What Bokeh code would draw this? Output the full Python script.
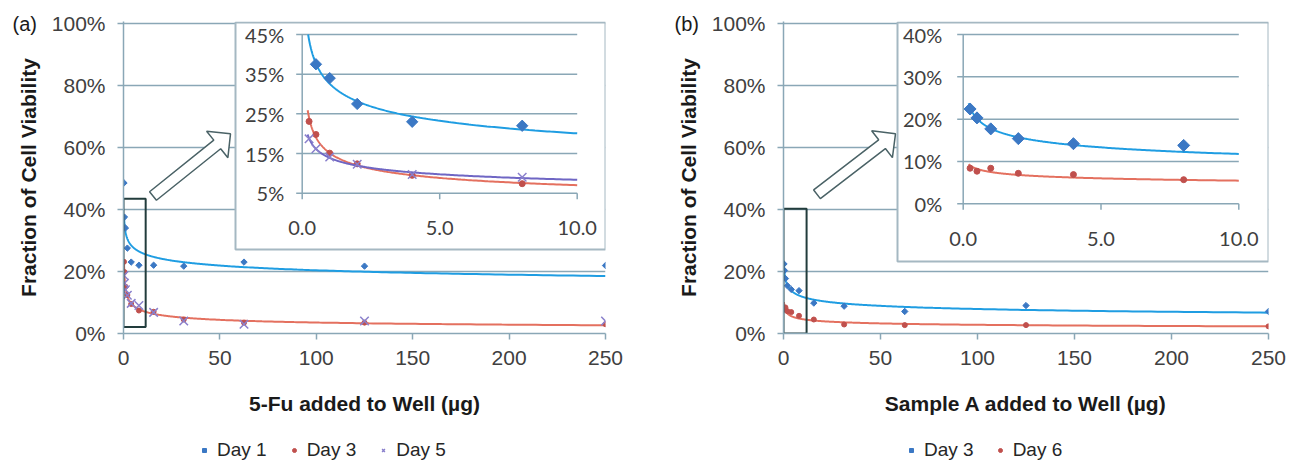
import numpy as np
from bokeh.plotting import figure
from bokeh.layouts import row, column
from bokeh.models import Range1d, Legend, LegendItem, Label, NumeralTickFormatter, FixedTicker
from bokeh.core.properties import value
from bokeh.embed import file_html
from bokeh.resources import INLINE

# ---------------- data ----------------
dose_ug = [0.25, 0.5, 1, 2, 4, 8, 15.625, 31.25, 62.5, 125, 250]

fu_day1 = [0.485, 0.375, 0.340, 0.275, 0.230, 0.220, 0.220, 0.217, 0.230, 0.217, 0.219]
fu_day3 = [0.231, 0.198, 0.151, 0.124, 0.095, 0.074, 0.070, 0.045, 0.035, 0.035, 0.030]
fu_day5 = [0.187, 0.162, 0.141, 0.123, 0.097, 0.090, 0.068, 0.040, 0.030, 0.040, 0.040]

sa_day3 = [0.224, 0.203, 0.177, 0.154, 0.142, 0.138, 0.098, 0.088, 0.071, 0.090, 0.071]
sa_day6 = [0.084, 0.077, 0.084, 0.072, 0.069, 0.057, 0.045, 0.029, 0.027, 0.027, 0.023]

main_x_ticks = [0, 50, 100, 150, 200, 250]
main_y_ticks = [0.0, 0.2, 0.4, 0.6, 0.8, 1.0]
inset_x_ticks = [0, 5, 10]
inset_x_labels = ["0.0", "5.0", "10.0"]
fu_inset_y_ticks = [0.05, 0.15, 0.25, 0.35, 0.45]
fu_inset_y_labels = ["5%", "15%", "25%", "35%", "45%"]
sa_inset_y_ticks = [0.0, 0.1, 0.2, 0.3, 0.4]
sa_inset_y_labels = ["0%", "10%", "20%", "30%", "40%"]

fu_zoom_region = [0.0, 11.5, 0.021, 0.434]   # x0, x1, y0, y1 of the magnified area
sa_zoom_region = [0.0, 11.9, 0.0, 0.402]

# ---------------- styles ----------------
BLUE_MK = "#3b78c4"
BLUE_LN = "#1f9de2"
RED_MK = "#c0504d"
RED_LN = "#e4705f"
PURP_MK = "#8a80cc"
PURP_LN = "#6f66c4"
GRID = "#8aa7b6"
BOX = "#a5b8c2"
ZOOM = "#223c3c"
ARROW = "#4a6266"
TXT = "#404040"

# ---------------- layout (page pixels) ----------------
FIG_H = 440
LEG_H = 26
FRAME_TOP = 21.0
FRAME_H = 312
FRAME_BOT = FRAME_TOP + FRAME_H
Y_TOP = 1.005

LEFT = dict(fig_x=0, fig_w=650, fl=123, fr=605,
            box=(235, 605, 22, 249), ax=(301.7, 576.7, 192.7, 34.0), ylab_off=18,
            fit_max_x=10,
            arrow=((152.5, 195.5), (230.0, 133.3)), tag=(12, 23), tag_text="(a)",
            legend_x=199, legend_cy=451, legend_spacing=22)
RIGHT = dict(fig_x=650, fig_w=648, fl=783, fr=1268,
             box=(897, 1268, 22, 261), ax=(962.7, 1238.3, 203.3, 34.0), ylab_off=21,
             fit_max_x=16,
             arrow=((816.5, 193.8), (895.0, 133.3)), tag=(674, 23), tag_text="(b)",
             legend_x=906, legend_cy=451, legend_spacing=21)


def power_fit(x, y):
    b, ln_a = np.polyfit(np.log(np.asarray(x, float)), np.log(np.asarray(y, float)), 1)
    return np.exp(ln_a), b


def px_to_x(cfg, px):
    return (px - cfg["fl"]) / (cfg["fr"] - cfg["fl"]) * main_x_ticks[-1]


def py_to_y(py):
    return (FRAME_BOT - py) / FRAME_H * Y_TOP


def make_figure(cfg, xlabel):
    fw = cfg["fr"] - cfg["fl"]
    bl = cfg["fl"] - cfg["fig_x"]
    br = cfg["fig_w"] - bl - fw
    p = figure(frame_width=fw, frame_height=FRAME_H,
               min_border_left=bl, min_border_right=br,
               min_border_top=int(FRAME_TOP), min_border_bottom=int(FIG_H - FRAME_TOP - FRAME_H),
               x_range=Range1d(0, main_x_ticks[-1]), y_range=Range1d(0, Y_TOP),
               output_backend="svg", toolbar_location=None)
    p.outline_line_color = None
    p.background_fill_color = "white"
    p.border_fill_color = "white"
    p.xgrid.visible = False
    p.ygrid.ticker = FixedTicker(ticks=main_y_ticks)
    p.ygrid.grid_line_color = GRID
    p.ygrid.grid_line_width = 1.5
    p.xaxis.ticker = FixedTicker(ticks=main_x_ticks)
    p.yaxis.ticker = FixedTicker(ticks=main_y_ticks)
    p.yaxis.formatter = NumeralTickFormatter(format="0%")
    for ax in (p.xaxis[0], p.yaxis[0]):
        ax.axis_line_color = GRID
        ax.axis_line_width = 1.5
        ax.major_tick_line_color = GRID
        ax.major_tick_line_width = 1.5
        ax.major_tick_out = 6
        ax.major_tick_in = 0
        ax.minor_tick_line_color = None
        ax.major_label_text_font = "Liberation Sans"
        ax.major_label_text_font_size = "21px"
        ax.major_label_text_color = TXT
        ax.major_label_standoff = 12
        ax.axis_label_text_font = "Liberation Sans"
        ax.axis_label_text_font_size = "21px"
        ax.axis_label_text_font_style = "bold"
        ax.axis_label_text_color = "#1a1a1a"
    p.xaxis.major_label_standoff = 11
    p.xaxis.axis_label = xlabel
    p.xaxis.axis_label_standoff = 24
    p.yaxis.axis_label = "Fraction of Cell Viability"
    p.yaxis.axis_label_standoff = 9
    return p


def scatter_kw(marker, size, mk_color):
    if marker == "x":
        return dict(marker="x", size=size, line_color=mk_color, line_width=1.5)
    if marker == "diamond":
        return dict(marker="square", angle=np.pi / 4, size=size,
                    fill_color=mk_color, line_color=mk_color)
    return dict(marker="circle", size=size, fill_color=mk_color, line_color=mk_color)


def draw_main_series(p, x, y, marker, size, mk_color, ln_color, fit=True):
    if fit:
        a, b = power_fit(x, y)
        xs = np.geomspace(min(x), max(x), 400)
        p.line(xs, a * xs ** b, line_color=ln_color, line_width=2)
    p.scatter(x, y, **scatter_kw(marker, size, mk_color))


def draw_zoom_and_arrow(p, cfg, region):
    x0, x1, y0, y1 = region
    p.quad(left=[x0], right=[x1], bottom=[y0], top=[y1], fill_color=None,
           line_color=ZOOM, line_width=2)
    (tx, ty), (hx, hy) = cfg["arrow"]
    L = np.hypot(hx - tx, hy - ty)
    ux, uy = (hx - tx) / L, (hy - ty) / L
    vx, vy = -uy, ux
    w, hw, hl = 5.5, 17.0, 17.0
    pts = [(0, -w), (L - hl, -w), (L - hl, -hw), (L, 0), (L - hl, hw), (L - hl, w), (0, w)]
    xs = [px_to_x(cfg, tx + u * ux + v * vx) for u, v in pts]
    ys = [py_to_y(ty + u * uy + v * vy) for u, v in pts]
    p.patch(xs, ys, fill_color="white", line_color=ARROW, line_width=1.5)


def draw_inset(p, cfg, yticks, ylabels, series):
    FL, FR = cfg["fl"], cfg["fr"]
    x0px, x1px, y0px, y1px = cfg["ax"]
    xi0, xi1 = inset_x_ticks[0], inset_x_ticks[-1]
    yi0, yi1 = yticks[0], yticks[-1]
    s = (x1px - x0px) / (xi1 - xi0)
    t = (y0px - y1px) / (yi1 - yi0)
    p.extra_x_ranges = {"ix": Range1d(xi0 - (x0px - FL) / s, xi1 + (FR - x1px) / s)}
    p.extra_y_ranges = {"iy": Range1d(yi0 - (FRAME_BOT - y0px) / t, yi1 + (y1px - FRAME_TOP) / t)}
    kw = dict(x_range_name="ix", y_range_name="iy")
    bl, br, bt, bb = cfg["box"]
    p.quad(left=[xi0 + (bl - x0px) / s], right=[xi0 + (br - x0px) / s],
           top=[yi0 + (y0px - bt) / t], bottom=[yi0 + (y0px - bb) / t],
           fill_color="white", line_color=BOX, line_width=2, **kw)
    n = len(yticks)
    p.segment(x0=[xi0 - 6 / s] * n, x1=[xi1] * n, y0=yticks, y1=yticks,
              line_color=GRID, line_width=1.5, **kw)
    p.segment(x0=[xi0], x1=[xi0], y0=[yi0], y1=[yi1], line_color=GRID, line_width=1.5, **kw)
    m = len(inset_x_ticks)
    p.segment(x0=inset_x_ticks, x1=inset_x_ticks, y0=[yi0] * m, y1=[yi0 - 6 / t] * m,
              line_color=GRID, line_width=1.5, **kw)
    p.text(x=[xi0] * n, y=yticks, text=ylabels, x_offset=-cfg["ylab_off"],
           text_align="right", text_baseline="middle", text_font=value("Lato"),
           text_font_size="20px", text_color=TXT, **kw)
    p.text(x=inset_x_ticks, y=[yi0] * m, text=inset_x_labels, y_offset=35,
           text_align="center", text_baseline="middle", text_font=value("Lato"),
           text_font_size="20px", text_color=TXT, **kw)
    for x, y, marker, size, mk, ln in series:
        keep = [(a_, b_) for a_, b_ in zip(x, y) if a_ <= cfg["fit_max_x"] and b_ <= yi1]
        a, b = power_fit([k[0] for k in keep], [k[1] for k in keep])
        xstart = max(0.2, (yi1 / a) ** (1 / b))
        xs = np.geomspace(xstart, xi1, 300)
        p.line(xs, a * xs ** b, line_color=ln, line_width=2, **kw)
        vis = [(a_, b_) for a_, b_ in zip(x, y) if a_ <= xi1 and yi0 <= b_ <= yi1]
        p.scatter([v[0] for v in vis], [v[1] for v in vis], **scatter_kw(marker, size, mk), **kw)


def add_tag(p, cfg):
    tx, ty = cfg["tag"]
    p.add_layout(Label(x=px_to_x(cfg, tx), y=py_to_y(ty), text=cfg["tag_text"],
                       text_font="Liberation Sans", text_font_size="20px",
                       text_color="#1a1a1a", text_align="left", text_baseline="middle"),
                 "right")


def make_legend_fig(cfg, entries):
    """Legend strip under the chart (same style as the main markers)."""
    q = figure(width=cfg["fig_w"], height=LEG_H, min_border=0,
               x_range=Range1d(0, 1), y_range=Range1d(0, 1),
               output_backend="svg", toolbar_location=None)
    q.axis.visible = False
    q.grid.visible = False
    q.outline_line_color = None
    q.background_fill_color = "white"
    q.border_fill_color = "white"
    items = []
    for label, marker, size, mk in entries:
        # legend proxy: a renderer with no visible point (NaN position)
        r = q.scatter([np.nan], [np.nan], **scatter_kw(marker, size, mk))
        items.append(LegendItem(label=label, renderers=[r]))
    top_in_strip = cfg["legend_cy"] - 10 - FIG_H
    legend = Legend(items=items, orientation="horizontal",
                    location=(cfg["legend_x"] - cfg["fig_x"], LEG_H - top_in_strip - 20),
                    glyph_width=10, glyph_height=20, label_standoff=8,
                    spacing=cfg["legend_spacing"], padding=0, margin=0,
                    border_line_color=None, background_fill_alpha=0,
                    label_text_font="Liberation Sans", label_text_font_size="19px",
                    label_text_color="#262626", label_height=20)
    q.add_layout(legend)
    return q


# ---------------- left panel: 5-Fu ----------------
pa = make_figure(LEFT, "5-Fu added to Well (µg)")
draw_main_series(pa, dose_ug, fu_day1, "diamond", 4.5, BLUE_MK, BLUE_LN)
draw_main_series(pa, dose_ug, fu_day3, "circle", 5, RED_MK, RED_LN)
draw_main_series(pa, dose_ug, fu_day5, "x", 12, PURP_MK, PURP_LN, fit=False)
draw_zoom_and_arrow(pa, LEFT, fu_zoom_region)
draw_inset(pa, LEFT, fu_inset_y_ticks, fu_inset_y_labels,
           [(dose_ug, fu_day1, "diamond", 8, BLUE_MK, BLUE_LN),
            (dose_ug, fu_day3, "circle", 6, RED_MK, RED_LN),
            (dose_ug, fu_day5, "x", 12, PURP_MK, PURP_LN)])
add_tag(pa, LEFT)
la = make_legend_fig(LEFT, [("Day 1", "diamond", 4.5, BLUE_MK),
                            ("Day 3", "circle", 5, RED_MK),
                            ("Day 5", "x", 12, PURP_MK)])

# ---------------- right panel: Sample A ----------------
pb = make_figure(RIGHT, "Sample A added to Well (µg)")
draw_main_series(pb, dose_ug, sa_day3, "diamond", 4.5, BLUE_MK, BLUE_LN)
draw_main_series(pb, dose_ug, sa_day6, "circle", 5, RED_MK, RED_LN)
draw_zoom_and_arrow(pb, RIGHT, sa_zoom_region)
draw_inset(pb, RIGHT, sa_inset_y_ticks, sa_inset_y_labels,
           [(dose_ug, sa_day3, "diamond", 8.5, BLUE_MK, BLUE_LN),
            (dose_ug, sa_day6, "circle", 6, RED_MK, RED_LN)])
add_tag(pb, RIGHT)
lb = make_legend_fig(RIGHT, [("Day 3", "diamond", 4.5, BLUE_MK),
                             ("Day 6", "circle", 5, RED_MK)])

layout = column(row(pa, pb), row(la, lb))
open("out.html", "w").write(file_html(layout, INLINE))
